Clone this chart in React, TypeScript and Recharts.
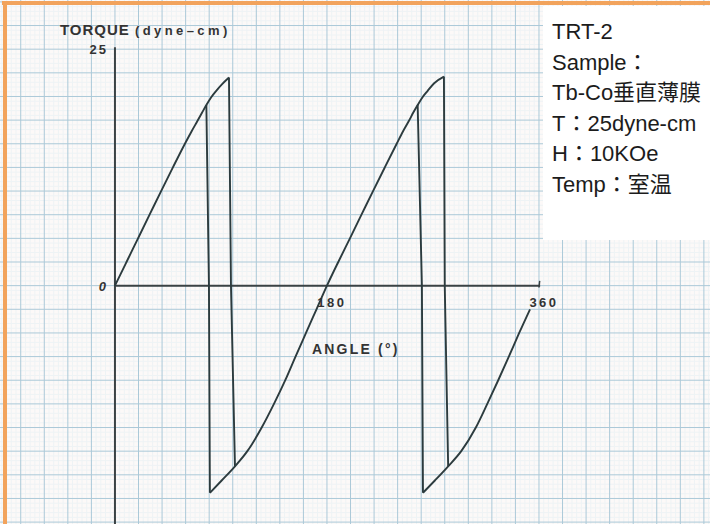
import React from "react";
import {
  LineChart,
  Line,
  XAxis,
  YAxis,
  ReferenceLine,
  ReferenceDot,
} from "recharts";

const WIDTH = 710;
const HEIGHT = 524;

const INK = "#2c3b3e";
const AXIS = "#3a4244";
const GRID_MAJOR = "#abc9d8";
const GRID_MINOR = "#eef3f5";
const ORANGE = "#f2a35c";

// pen strokes (angle in deg, torque in dyne-cm)
const rise1Angle = [0, 9.8, 19.6, 29.4, 39.2, 49.2, 59.4, 65, 70, 74, 77.6, 81.6, 86, 91, 96.8];
const rise1Torque = [0, 2.5, 5, 7.5, 10, 12.5, 15, 16.3, 17.4, 18.3, 19.1, 19.9, 20.6, 21.3, 22];

const drop1Angle = [96.8, 98.5, 101.9];
const drop1Torque = [22, 0, -19.1];

const back1Angle = [80.6, 79.8, 77.6];
const back1Torque = [-21.9, 0, 19.1];

const rise2Angle = [
  80.6, 90.6, 101.9, 112.4, 124.6, 135, 144.6, 153.3, 162.2, 171.1, 180,
  189.6, 199.5, 209.3, 219.1, 229.1, 239.2, 244.5, 249.5, 253.3, 257, 261, 265.5, 271, 279.3,
];
const rise2Torque = [
  -21.9, -20.6, -19.1, -17.5, -15, -12.5, -10, -7.5, -5, -2.5, 0,
  2.5, 5, 7.5, 10, 12.5, 15, 16.3, 17.4, 18.3, 19.1, 19.9, 20.6, 21.4, 22.1,
];

const drop2Angle = [279.3, 280, 282.9];
const drop2Torque = [22.1, 0, -19.1];

const back2Angle = [261.5, 260.6, 257];
const back2Torque = [-21.9, 0, 19.1];

const rise3Angle = [261.5, 271.6, 282.9, 294, 306.4, 316.1, 325.4, 334.4, 343.2, 352.4];
const rise3Torque = [-21.9, -20.6, -19.1, -17.5, -15, -12.5, -10, -7.5, -5, -2.5];

const angleTicks = [180, 360];
const torqueTicks = [0, 25];

const infoLines = ["TRT-2", "Sample：", "Tb-Co垂直薄膜", "T：25dyne-cm", "H：10KOe", "Temp：室温"];

const zip = (a: number[], t: number[]) => a.map((angle, i) => ({ angle, torque: t[i] }));

const strokes = [
  { id: "rise1", data: zip(rise1Angle, rise1Torque), curve: "monotone" },
  { id: "drop1", data: zip(drop1Angle, drop1Torque), curve: "linear" },
  { id: "back1", data: zip(back1Angle, back1Torque), curve: "linear" },
  { id: "rise2", data: zip(rise2Angle, rise2Torque), curve: "monotone" },
  { id: "drop2", data: zip(drop2Angle, drop2Torque), curve: "linear" },
  { id: "back2", data: zip(back2Angle, back2Torque), curve: "linear" },
  { id: "rise3", data: zip(rise3Angle, rise3Torque), curve: "monotone" },
];

// chart paper spacing
const range = (from: number, to: number, step: number) => {
  const out: number[] = [];
  for (let v = from; v <= to + 1e-9; v += step) out.push(Math.round(v * 100) / 100);
  return out;
};
const X_DOMAIN = [-97.6, 505.2];
const Y_DOMAIN = [-25.2, 30.2];
const majorX = range(-80, 500, 20);
const minorX = range(-96, 504, 4).filter((v) => v % 20 !== 0);
const majorY = range(-25, 30, 2.5);
const minorY = range(-25, 30, 0.5).filter((v) => Math.abs(v / 2.5 - Math.round(v / 2.5)) > 1e-6);

const labelFont = "'Liberation Sans', Arial, sans-serif";

export default function App() {
  return (
    <div
      style={{
        position: "absolute",
        left: 0,
        top: 0,
        width: WIDTH,
        height: HEIGHT,
        background: "#fcf9f8",
        overflow: "hidden",
      }}
    >
      <LineChart width={WIDTH} height={HEIGHT} margin={{ top: 0, right: 0, bottom: 0, left: 0 }}>
        <XAxis type="number" dataKey="angle" domain={X_DOMAIN} allowDataOverflow hide />
        <YAxis type="number" dataKey="torque" domain={Y_DOMAIN} allowDataOverflow hide />

        {minorX.map((v) => (
          <ReferenceLine key={`mx${v}`} x={v} stroke={GRID_MINOR} strokeWidth={1} />
        ))}
        {minorY.map((v) => (
          <ReferenceLine key={`my${v}`} y={v} stroke={GRID_MINOR} strokeWidth={1} />
        ))}
        {majorX.map((v) => (
          <ReferenceLine key={`gx${v}`} x={v} stroke={GRID_MAJOR} strokeWidth={1} />
        ))}
        {majorY.map((v) => (
          <ReferenceLine key={`gy${v}`} y={v} stroke={GRID_MAJOR} strokeWidth={1} />
        ))}

        <ReferenceLine segment={[{ x: 0, y: 25.2 }, { x: 0, y: -25.2 }]} stroke={AXIS} strokeWidth={2} />
        <ReferenceLine segment={[{ x: 0, y: 0 }, { x: 361, y: 0 }]} stroke={AXIS} strokeWidth={2} />
        <ReferenceLine segment={[{ x: 360, y: -0.2 }, { x: 360.6, y: 0.5 }]} stroke={AXIS} strokeWidth={1.5} />

        {strokes.map((s) => (
          <Line
            key={s.id}
            data={s.data}
            dataKey="torque"
            type={s.curve as "monotone" | "linear"}
            stroke={INK}
            strokeWidth={1.9}
            dot={false}
            activeDot={false}
            isAnimationActive={false}
          />
        ))}

        {torqueTicks.map((t) => (
          <ReferenceDot
            key={`t${t}`}
            x={0}
            y={t}
            r={0}
            shape={(p: any) => (
              <text
                x={p.cx - 7}
                y={p.cy + 5}
                textAnchor="end"
                fontFamily={labelFont}
                fontWeight="bold"
                fontStyle={t === 0 ? "italic" : "normal"}
                fontSize={13}
                letterSpacing={2}
                fill="#333"
              >
                {t}
              </text>
            )}
          />
        ))}
        {angleTicks.map((a) => (
          <ReferenceDot
            key={`a${a}`}
            x={a}
            y={0}
            r={0}
            shape={(p: any) => (
              <text
                x={p.cx + 5}
                y={p.cy + 21}
                textAnchor="middle"
                fontFamily={labelFont}
                fontWeight="bold"
                fontSize={13}
                letterSpacing={2.5}
                fill="#333"
              >
                {a}
              </text>
            )}
          />
        ))}
        <ReferenceDot
          x={0}
          y={25}
          r={0}
          shape={(p: any) => (
            <text x={p.cx - 55} y={p.cy - 14} fontFamily={labelFont} fontWeight="bold" fill="#333">
              <tspan fontSize={15} letterSpacing={1}>TORQUE </tspan>
              <tspan fontSize={13} letterSpacing={3.4}>(dyne–cm)</tspan>
            </text>
          )}
        />
        <ReferenceDot
          x={180}
          y={0}
          r={0}
          shape={(p: any) => (
            <text x={p.cx - 15} y={p.cy + 68} fontFamily={labelFont} fontWeight="bold"
              fontSize={14} letterSpacing={2.2} fill="#333">
              ANGLE (°)
            </text>
          )}
        />
      </LineChart>

      <div
        style={{
          position: "absolute",
          left: 543,
          top: 6,
          width: 167,
          height: 234,
          background: "#ffffff",
          fontFamily: "'Liberation Sans', 'Noto Sans CJK JP', sans-serif",
          fontSize: 22,
          color: "#1c1c1c",
        }}
      >
        <div style={{ paddingTop: 11, paddingLeft: 9 }}>
          {infoLines.map((line) => (
            <div key={line} style={{ height: 30.5, lineHeight: "30.5px", whiteSpace: "nowrap" }}>
              {line}
            </div>
          ))}
        </div>
      </div>

      <div style={{ position: "absolute", left: 2, top: 1, width: WIDTH, height: 4, background: ORANGE }} />
      <div style={{ position: "absolute", left: 3, top: 1, width: 4, height: HEIGHT, background: ORANGE }} />
    </div>
  );
}
